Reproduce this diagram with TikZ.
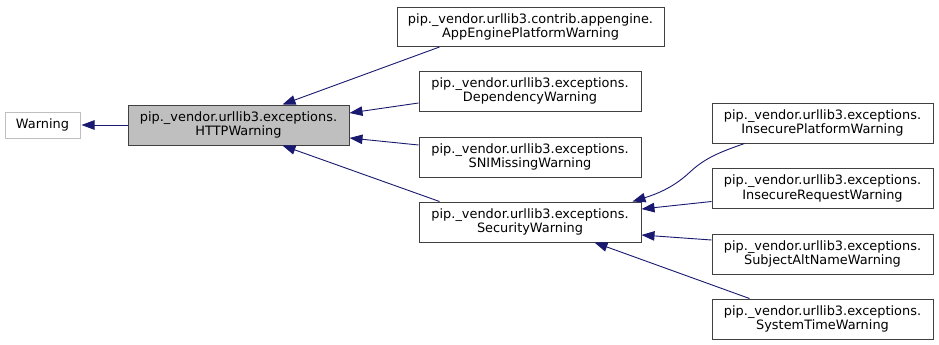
\documentclass[tikz,border=0pt]{standalone}
\usepackage{fontspec}
\setmainfont{DejaVu Sans}
\usetikzlibrary{arrows.meta,calc}
\definecolor{edgeblue}{HTML}{191970}
\definecolor{boxgrey}{HTML}{BFBFBF}
\definecolor{boxline}{HTML}{404040}
\tikzset{
  cls/.style={draw=boxline, line width=1pt, fill=white, minimum height=40pt,
    minimum width=222pt, inner sep=0pt, align=center,
    font=\fontsize{12.9}{14.3}\selectfont},
  ext/.style={cls, draw=boxgrey, minimum height=26pt, minimum width=75pt},
  cur/.style={cls, fill=boxgrey},
  inh/.style={draw=edgeblue, line width=0.9pt,
    {Triangle[length=13pt,width=9.5pt,fill=edgeblue]}-},
}
\begin{document}
\begin{tikzpicture}[x=1pt,y=-1pt]
  \useasboundingbox[fill=white] (0,0) rectangle (939,345);
  % class boxes
  \node[ext] (warning) at (42.5,125) {Warning};
  \node[cur, minimum width=221pt] (http) at (238.5,125) {pip.\_vendor.urllib3.exceptions.\\HTTPWarning};
  \node[cls, minimum width=267pt, minimum height=39pt] (app) at (530.5,27) {pip.\_vendor.urllib3.contrib.appengine.\\AppEnginePlatformWarning};
  \node[cls] (dep) at (530,91) {pip.\_vendor.urllib3.exceptions.\\DependencyWarning};
  \node[cls] (sni) at (530,157) {pip.\_vendor.urllib3.exceptions.\\SNIMissingWarning};
  \node[cls] (sec) at (530,222) {pip.\_vendor.urllib3.exceptions.\\SecurityWarning};
  \node[cls, minimum width=221pt] (ip) at (822.5,123) {pip.\_vendor.urllib3.exceptions.\\InsecurePlatformWarning};
  \node[cls, minimum width=221pt] (ir) at (822.5,188.5) {pip.\_vendor.urllib3.exceptions.\\InsecureRequestWarning};
  \node[cls, minimum width=221pt] (san) at (822.5,254) {pip.\_vendor.urllib3.exceptions.\\SubjectAltNameWarning};
  \node[cls, minimum width=221pt] (st) at (822.5,319) {pip.\_vendor.urllib3.exceptions.\\SystemTimeWarning};
  % inheritance edges (arrow at the base class)
  \draw[inh] ([xshift=1pt]warning.east) -- (http.west);
  \draw[inh] ($(http.north west)+(155,0)$) -- ($(app.south west)+(43,0)$);
  \draw[inh] ($(http.east)+(0,-12)$) -- ($(dep.west)+(0,12)$);
  \draw[inh] ($(http.east)+(0,13)$) -- ($(sni.west)+(0,-12)$);
  \draw[inh] ($(http.south west)+(155,0)$) -- ($(sec.north west)+(21,0)$);
  \draw[inh] ($(sec.north east)+(-9,0)$) .. controls (660,193) and (675,186) .. (690,172)
     .. controls (705,158) and (720,152) .. ($(ip.south west)+(33,0)$);
  \draw[inh] ($(sec.east)+(0,-13)$) -- ($(ir.west)+(0,13)$);
  \draw[inh] ($(sec.east)+(0,13)$) -- ($(san.west)+(0,-14)$);
  \draw[inh] ($(sec.south east)+(-47,0)$) -- ($(st.north west)+(38,0)$);
\end{tikzpicture}
\end{document}
